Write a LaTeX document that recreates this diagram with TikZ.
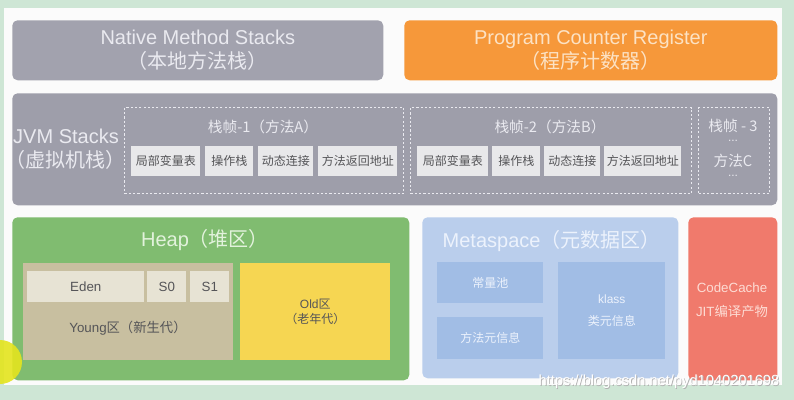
\documentclass[tikz,border=0pt]{standalone}
\usepackage{fontspec}
\setmainfont{Liberation Sans}
\newfontfamily\cjk{Noto Sans CJK SC}
\newcommand\zh[1]{{\cjk #1}}
\definecolor{bgg}{RGB}{206,230,213}
\definecolor{panel}{RGB}{251,251,251}
\definecolor{grayb}{RGB}{162,162,174}
\definecolor{grayj}{RGB}{158,158,170}
\definecolor{graytx}{RGB}{234,234,240}
\definecolor{subb}{RGB}{232,232,234}
\definecolor{darktx}{RGB}{85,85,88}
\definecolor{orng}{RGB}{246,152,58}
\definecolor{orngtx}{RGB}{252,226,196}
\definecolor{heapg}{RGB}{128,188,112}
\definecolor{heaptx}{RGB}{226,242,220}
\definecolor{youngc}{RGB}{200,191,160}
\definecolor{edenc}{RGB}{231,227,212}
\definecolor{oldc}{RGB}{246,214,82}
\definecolor{metac}{RGB}{186,206,236}
\definecolor{metain}{RGB}{161,189,229}
\definecolor{metatx}{RGB}{236,242,252}
\definecolor{codec}{RGB}{240,122,108}
\definecolor{codetx}{RGB}{253,220,212}
\definecolor{cursor}{RGB}{228,228,30}
\newcommand\rbox[7]{\node[#6, anchor=north west, inner sep=0pt, align=center,
  minimum width={(#4-#2)*0.75pt}, minimum height={(#5-#3)*0.75pt}] (#1) at (#2,#3) {#7};}
\tikzset{
  big/.style={font=\fontsize{15}{17}\selectfont},
  mid/.style={font=\fontsize{11}{13}\selectfont},
  sml/.style={font=\fontsize{9}{11}\selectfont},
  smm/.style={font=\fontsize{10}{12}\selectfont},
  grayarea/.style={fill=grayj, rounded corners=4pt, text=graytx},
  subbox/.style={fill=subb, text=darktx, sml},
  frame/.style={draw=graytx, line width=0.9pt, dash pattern=on 1.6pt off 1.6pt},
}
\begin{document}
\begin{tikzpicture}[x=0.75pt,y=-0.75pt]
\useasboundingbox (0,0) rectangle (794,400);
\fill[bgg] (0,0) rectangle (794,400);
\fill[panel] (4,8) rectangle (782,385);
% top row
\rbox{nms}{12}{20}{383}{80}{grayarea, fill=grayb, big}{Native Method Stacks\\[1pt]\zh{（本地方法栈）}}
\rbox{pcr}{404}{20}{777}{80}{fill=orng, rounded corners=4pt, text=orngtx, big}{Program Counter Register\\[1pt]\zh{（程序计数器）}}
% JVM stacks
\rbox{jvm}{12}{93}{777}{205}{grayarea}{}
\node[big, text=graytx, align=center] (jvmt) at (66,149) {JVM Stacks\\[1pt]\zh{（虚拟机栈）}};
\rbox{f1}{124}{107}{403}{193}{frame}{}
\node[mid, text=graytx] (f1t) at (263,127) {\zh{栈帧-1（方法A）}};
\rbox{a1}{131}{146}{200}{176}{subbox}{\zh{局部变量表}}
\rbox{a2}{205}{146}{253}{176}{subbox}{\zh{操作栈}}
\rbox{a3}{258}{146}{313}{176}{subbox}{\zh{动态连接}}
\rbox{a4}{318}{146}{397}{176}{subbox}{\zh{方法返回地址}}
\rbox{f2}{410}{107}{691}{193}{frame}{}
\node[mid, text=graytx] (f2t) at (550,127) {\zh{栈帧-2（方法B）}};
\rbox{b1}{417}{146}{488}{176}{subbox}{\zh{局部变量表}}
\rbox{b2}{492}{146}{540}{176}{subbox}{\zh{操作栈}}
\rbox{b3}{544}{146}{600}{176}{subbox}{\zh{动态连接}}
\rbox{b4}{604}{146}{681}{176}{subbox}{\zh{方法返回地址}}
\rbox{f3}{698}{107}{769}{193}{frame}{}
\node[mid, text=graytx] (f3a) at (733,126) {\zh{栈帧 - 3}};
\node[sml, text=graytx] (f3b) at (733,141) {...};
\node[mid, text=graytx] (f3c) at (733,161) {\zh{方法C}};
\node[sml, text=graytx] (f3d) at (733,176) {...};
% Heap
\rbox{heap}{12}{217}{409}{380}{fill=heapg, rounded corners=4pt}{}
\node[big, text=heaptx] (heapt) at (205,240) {Heap\zh{（堆区）}};
\rbox{young}{23}{263}{233}{360}{fill=youngc}{}
\rbox{eden}{27}{271}{144}{302}{fill=edenc, text=darktx, smm}{Eden}
\rbox{s0}{147}{271}{186}{302}{fill=edenc, text=darktx, smm}{S0}
\rbox{s1}{190}{271}{229}{302}{fill=edenc, text=darktx, smm}{S1}
\node[smm, text=darktx] (youngt) at (128,328) {Young\zh{区（新生代）}};
\rbox{old}{240}{263}{390}{360}{fill=oldc, text=darktx, sml}{Old\zh{区}\\\zh{（老年代）}}
% Metaspace
\rbox{meta}{422}{217}{678}{378}{fill=metac, rounded corners=4pt}{}
\node[big, text=metatx, anchor=west] (metat) at (438,241) {Metaspace\zh{（元数据区）}};
\rbox{cp}{437}{262}{543}{303}{fill=metain, text=metatx, sml}{\zh{常量池}}
\rbox{mm}{437}{317}{543}{359}{fill=metain, text=metatx, sml}{\zh{方法元信息}}
\rbox{kl}{558}{262}{665}{359}{fill=metain, text=metatx, sml}{klass\\[5pt]\zh{类元信息}}
% CodeCache
\rbox{cc}{688}{217}{777}{380}{fill=codec, rounded corners=4pt}{}
\node[smm, text=codetx, align=center] (cct) at (732,300) {CodeCache\\[6pt]JIT\zh{编译产物}};
% watermark
\node[mid, text=gray!60, anchor=east] (wm0) at (784.8,382.6) {https://blog.csdn.net/pyd1040201698};
\node[mid, text=white, anchor=east] (wm) at (784,382) {https://blog.csdn.net/pyd1040201698};
% cursor highlight
\fill[cursor, opacity=0.9] (0,362) circle (22);
\end{tikzpicture}
\end{document}
